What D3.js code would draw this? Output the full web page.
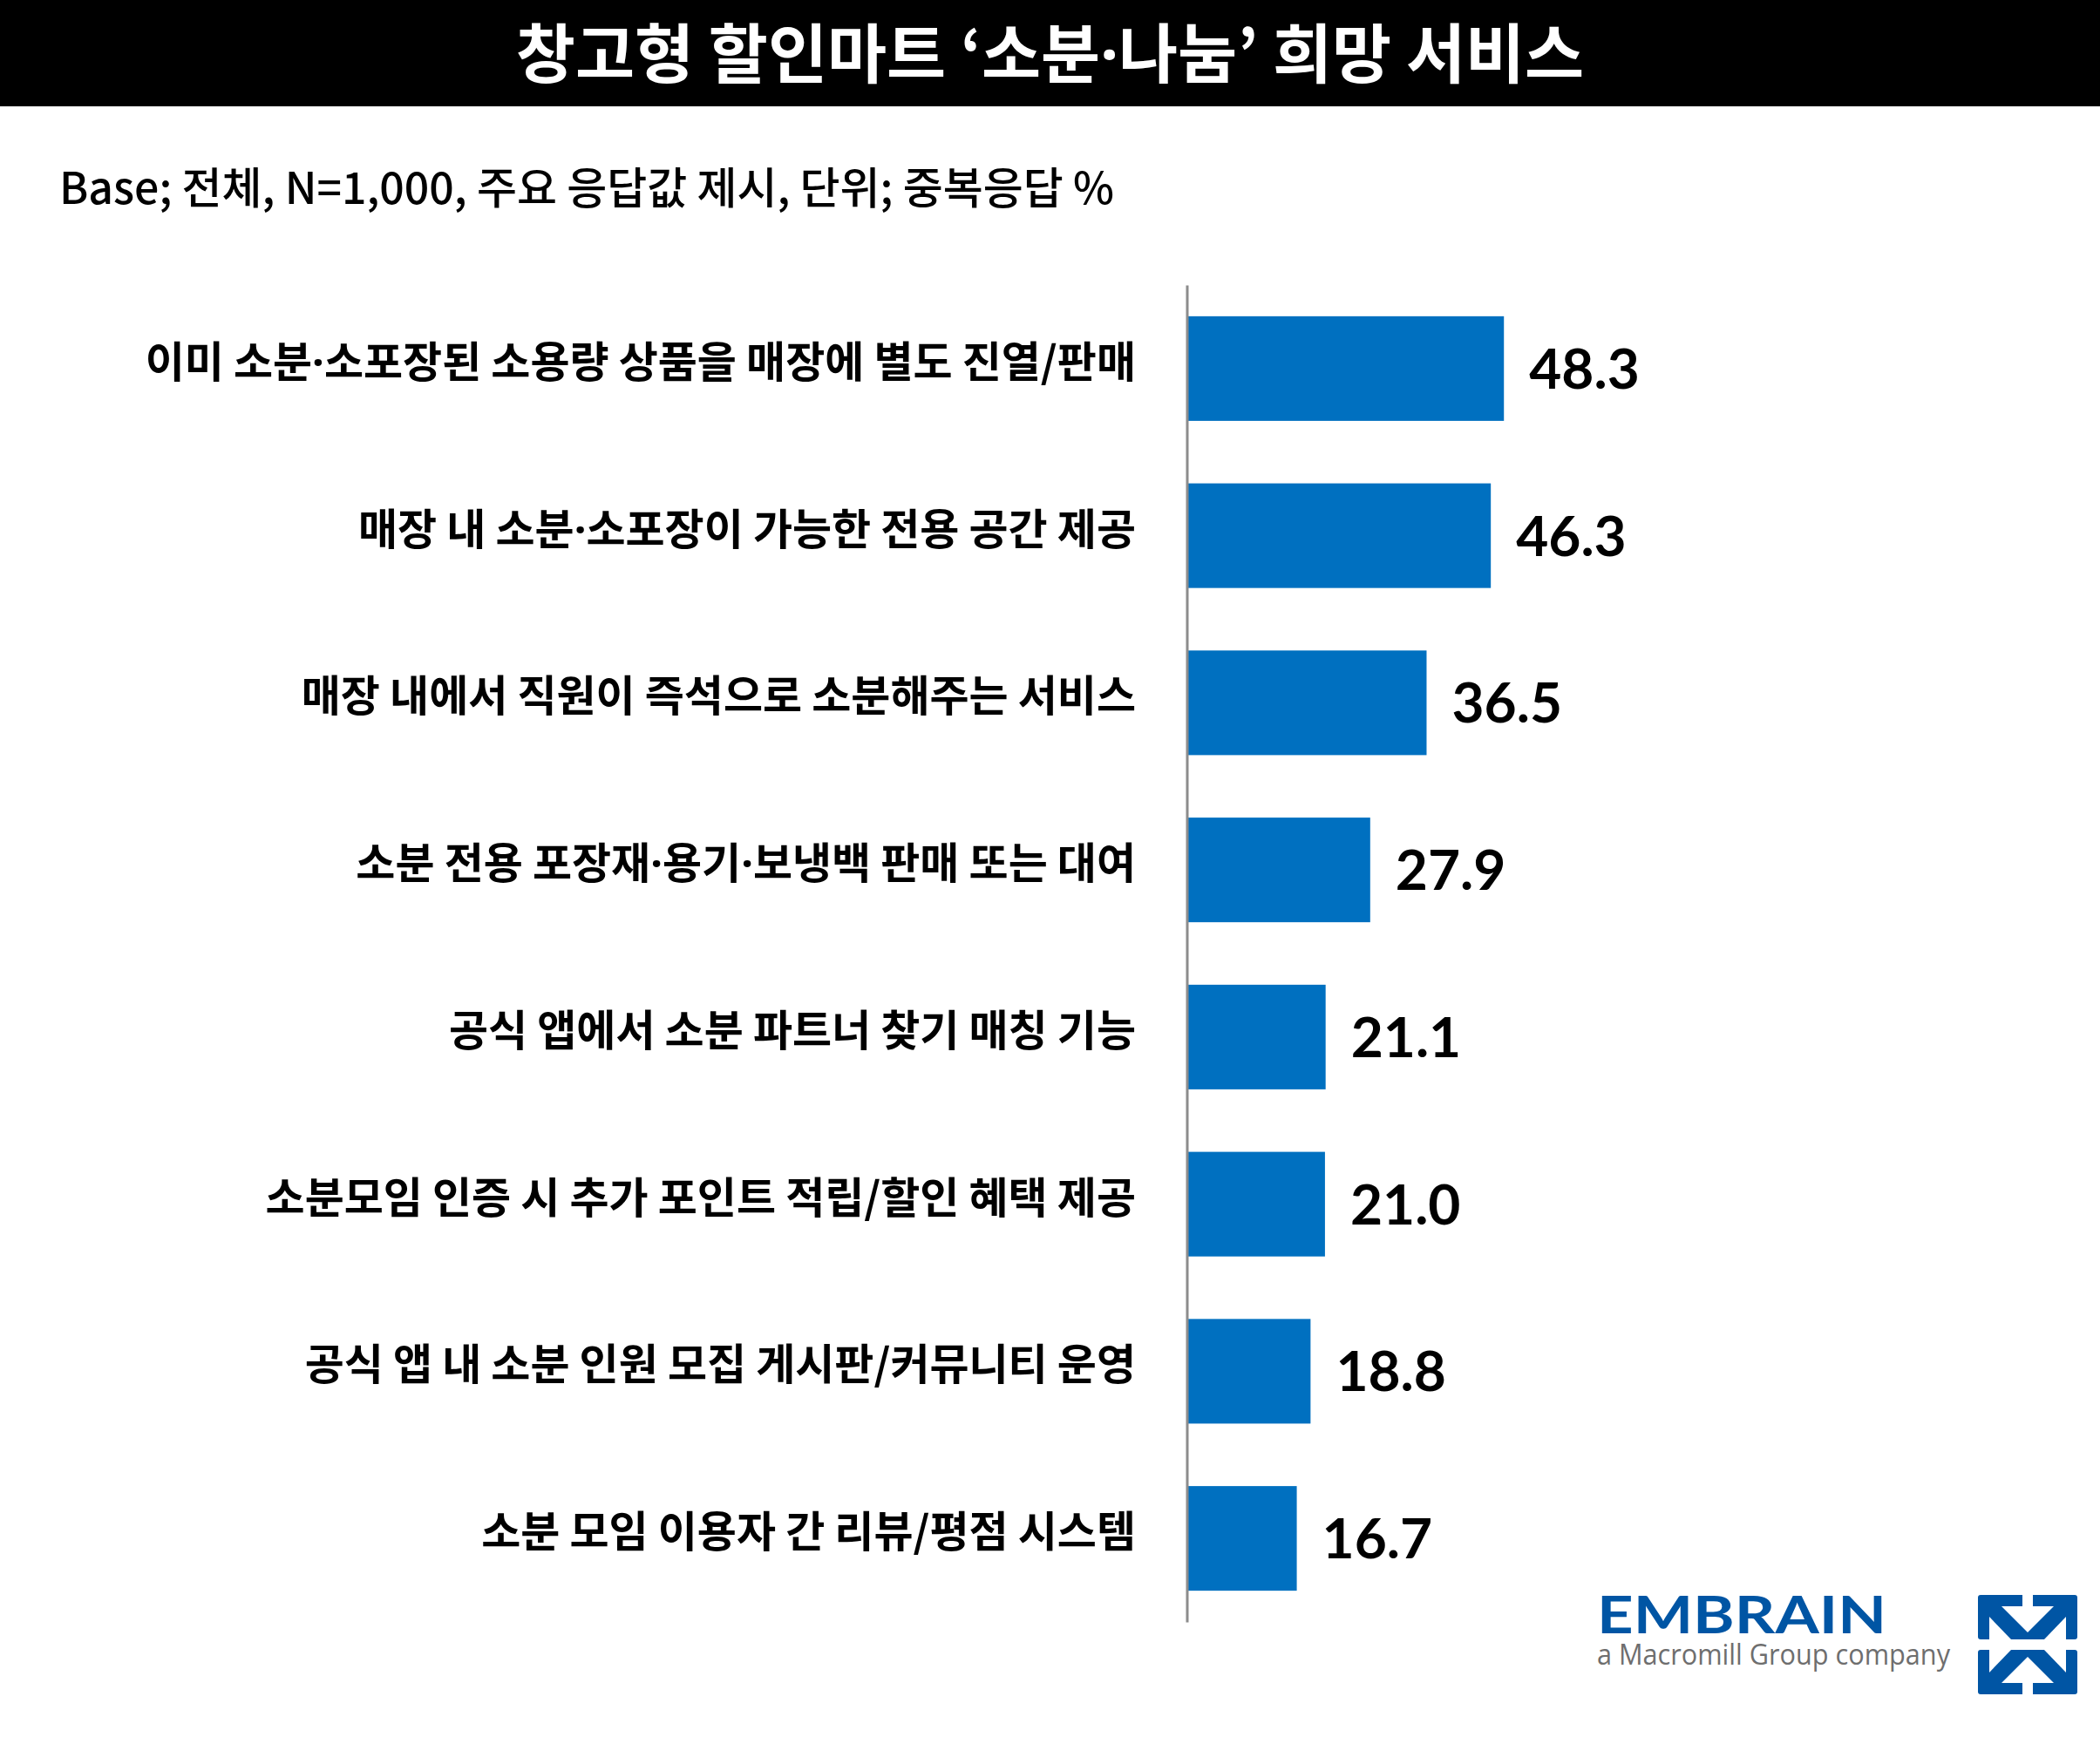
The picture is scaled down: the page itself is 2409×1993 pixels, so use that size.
<!DOCTYPE html>
<html><head><meta charset="utf-8">
<script src="https://cdn.jsdelivr.net/npm/d3@7"></script>
<style>html,body{margin:0;padding:0;background:#fff;}svg{display:block;}</style>
</head><body>
<script>
const title = "창고형 할인마트 ‘소분·나눔’ 희망 서비스";
const subtitle = "Base; 전체, N=1,000, 주요 응답값 제시, 단위; 중복응답 %";
const categories = [
  "이미 소분·소포장된 소용량 상품을 매장에 별도 진열/판매",
  "매장 내 소분·소포장이 가능한 전용 공간 제공",
  "매장 내에서 직원이 즉석으로 소분해주는 서비스",
  "소분 전용 포장재·용기·보냉백 판매 또는 대여",
  "공식 앱에서 소분 파트너 찾기 매칭 기능",
  "소분모임 인증 시 추가 포인트 적립/할인 혜택 제공",
  "공식 앱 내 소분 인원 모집 게시판/커뮤니티 운영",
  "소분 모임 이용자 간 리뷰/평점 시스템"
];
const values = [48.3, 46.3, 36.5, 27.9, 21.1, 21.0, 18.8, 16.7];
const logoName = "EMBRAIN";
const logoTag = "a Macromill Group company";

const W = 2409, H = 1993;
const svg = d3.select("body").append("svg").attr("width", W).attr("height", H);
const KR = "'Noto Sans CJK KR','Noto Sans',sans-serif";

// writes text into a <text>, using a narrow Latin font for the middle dot
function fillText(sel, str){
  const parts = str.split("·");
  parts.forEach((p,i)=>{
    if(i>0) sel.append("tspan").attr("font-family","'Noto Sans', sans-serif").text("·");
    sel.append("tspan").text(p);
  });
}

// header
svg.append("rect").attr("x",0).attr("y",0).attr("width",W).attr("height",122).attr("fill","#000");
const tt = svg.append("text").attr("x",W/2).attr("y",89).attr("text-anchor","middle")
  .attr("fill","#fff").attr("font-family",KR).attr("font-weight",700).attr("font-size",74);
fillText(tt, title);

svg.append("text").attr("x",68).attr("y",234).attr("fill","#000")
  .attr("font-family",KR).attr("font-weight",500).attr("font-size",50).text(subtitle);

const x = d3.scaleLinear().domain([0,100]).range([1362, 2114]);
const y = d3.scaleBand().domain(categories).range([327,1861]).paddingInner(0.374).paddingOuter(0.187);

const data = categories.map((c,i)=>({c, v: values[i]}));

svg.append("g").selectAll("rect").data(data).join("rect")
  .attr("x", x(0)).attr("y", d=>y(d.c)).attr("width", d=>x(d.v)-x(0)).attr("height", y.bandwidth())
  .attr("fill","#0070C0");

// axis line
const yAxis = d3.axisLeft(y).tickSize(0).tickFormat("");
const ag = svg.append("g").attr("transform",`translate(${x(0)-0.5},0)`).call(yAxis);
ag.selectAll(".tick").remove();
ag.select(".domain").attr("stroke","#8c8c8c").attr("stroke-width",3);

svg.append("g").selectAll("text").data(data).join("text")
  .attr("x", 1303).attr("y", d=>y(d.c)+y.bandwidth()/2+10).attr("text-anchor","end")
  .attr("font-family",KR).attr("font-weight",700).attr("font-size",49).attr("fill","#000")
  .each(function(d){ fillText(d3.select(this), d.c); });

svg.append("g").selectAll("text").data(data).join("text")
  .attr("x", d=>x(d.v)+29).attr("y", d=>y(d.c)+y.bandwidth()/2+23)
  .attr("font-family","Lato, 'Open Sans', sans-serif").attr("font-weight",700).attr("font-size",64).attr("fill","#000")
  .text(d=>d.v.toFixed(1));

// logo
const lg = svg.append("g");
lg.append("text").attr("x",1832).attr("y",1874).attr("fill","#0055A4")
  .attr("font-family","Lato, sans-serif").attr("font-weight",700).attr("font-size",60)
  .attr("textLength",332).attr("lengthAdjust","spacingAndGlyphs").text(logoName);
lg.append("text").attr("x",1832).attr("y",1910).attr("fill","#6e6e6e")
  .attr("font-family","'Open Sans', sans-serif").attr("font-weight",400).attr("font-size",32)
  .attr("textLength",405).attr("lengthAdjust","spacingAndGlyphs").text(logoTag);

const ic = svg.append("g").attr("transform","translate(2269,1830)");
function drawHalf(g){
  g.append("rect").attr("x",0).attr("y",0).attr("width",114).attr("height",51).attr("rx",3).attr("fill","#0055A4");
  g.append("rect").attr("x",51).attr("y",0).attr("width",12).attr("height",14).attr("fill","#fff");
  g.append("path").attr("d","M27,13 L87,13 L57,43 Z").attr("fill","#fff");
  g.append("path").attr("d","M13,25 L13,51 L38,51 Z").attr("fill","#fff");
  g.append("path").attr("d","M101,25 L101,51 L76,51 Z").attr("fill","#fff");
}
drawHalf(ic.append("g"));
drawHalf(ic.append("g").attr("transform","translate(0,114) scale(1,-1)"));
</script>
</body></html>
